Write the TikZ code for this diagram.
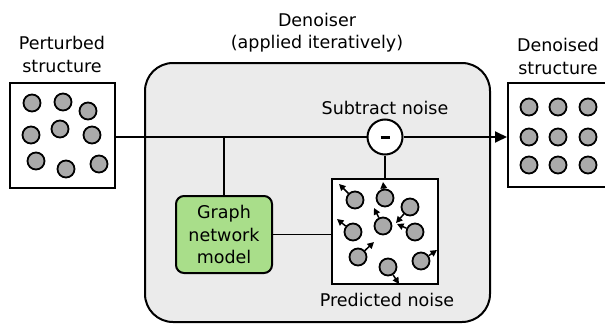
\documentclass[tikz,border=0pt]{standalone}
\usepackage{fontspec}
\setmainfont{DejaVu Sans}
\usetikzlibrary{arrows.meta,positioning}
\definecolor{panelgray}{HTML}{EBEBEB}
\definecolor{modelgreen}{HTML}{A9DE8A}
\definecolor{atomgray}{HTML}{AAAAAA}
\begin{document}
\begin{tikzpicture}[x=1pt,y=-1pt,
  lbl/.style={font=\fontsize{17.5}{23}\selectfont, align=center, inner sep=0pt},
  frame/.style={draw, line width=2pt, fill=white, inner sep=0pt},
  atom/.style={draw, line width=1.8pt, fill=atomgray, circle, minimum size=17pt, inner sep=0pt},
  conn/.style={line width=1.8pt},
  narrow/.style={line width=1.5pt, -{Triangle[length=6.5pt,width=6.5pt]}}]
\useasboundingbox (0,0) rectangle (605,324);
% Denoiser panel
\draw[line width=2pt, fill=panelgray, rounded corners=28pt] (145,63) rectangle (490,322);
\node[lbl] (den) at (317,20) {Denoiser};
\node[lbl] (deni) at (317,44) {(applied iteratively)};
% left box
\node[frame, minimum width=105pt, minimum height=105pt] (inbox) at (62.5,135.5) {};
\node[lbl] (inlbl) at (62,54) {Perturbed\\structure};
% right box
\node[frame, minimum width=100pt, minimum height=104pt, anchor=west] (outbox) at (507,135) {};
\node[lbl] (outlbl) at (558,56) {Denoised\\structure};
% subtract circle
\node[draw, circle, line width=2pt, fill=white, minimum size=35pt, inner sep=0pt] (sub) at (385,137) {};
\draw[line width=3pt] ([xshift=-4.5pt]sub.center) -- ([xshift=4.5pt]sub.center);
\node[lbl] (sublbl) at (385,108) {Subtract noise};
% green model
\node[draw, line width=2pt, fill=modelgreen, rounded corners=8pt, minimum width=96pt, minimum height=77pt, lbl, font=\fontsize{17.5}{22.5}\selectfont] (gnn) at (224,234.5) {Graph\\network\\model};
% noise box
\node[frame, minimum width=106pt, minimum height=105pt] (noise) at (385,231.5) {};
\node[lbl] (noiselbl) at (387,300) {Predicted noise};
% connectors
\coordinate (j1) at (224,137);
\draw[conn] (inbox.east |- j1) -- (sub.west);
\draw[conn, -{Triangle[length=12pt,width=11pt]}] (sub.east) -- (outbox.west |- sub.east);
\draw[conn] (j1) -- (gnn.north);
\draw[conn] (gnn.east) -- (noise.west |- gnn.east);
\draw[conn] (sub.south) -- (noise.north);
% left atoms
\foreach \p [count=\i] in {(32,103),(63,102),(88,111),(31,135),(60,129),(92,135),(36,161),(66,169),(99,164)}
  \node[atom] (la\i) at \p {};
% right atoms
\foreach \yy [count=\j] in {107,137,165}
  \foreach \xx [count=\i] in {529,558,588}
    \node[atom] (ra\j\i) at (\xx,\yy) {};
% noise atoms
\node[atom] (n1) at (355,200) {};
\node[atom] (n2) at (385,198) {};
\node[atom] (n3) at (410,207) {};
\node[atom] (n4) at (353,232) {};
\node[atom] (n5) at (383,226) {};
\node[atom] (n6) at (415,232) {};
\node[atom] (n7) at (358,257) {};
\node[atom] (n8) at (388,267) {};
\node[atom] (n9) at (421,261) {};
\coordinate (e1) at (339,184);
\coordinate (e2) at (383,182);
\coordinate (e3) at (396,223);
\coordinate (e4) at (337,219);
\coordinate (e5) at (374,208);
\coordinate (e6) at (397,224);
\coordinate (e7) at (374,242);
\coordinate (e8) at (399,284);
\coordinate (e9) at (437,250);
\foreach \k in {1,...,9}
  \draw[narrow] (n\k) -- (e\k);
\end{tikzpicture}
\end{document}
